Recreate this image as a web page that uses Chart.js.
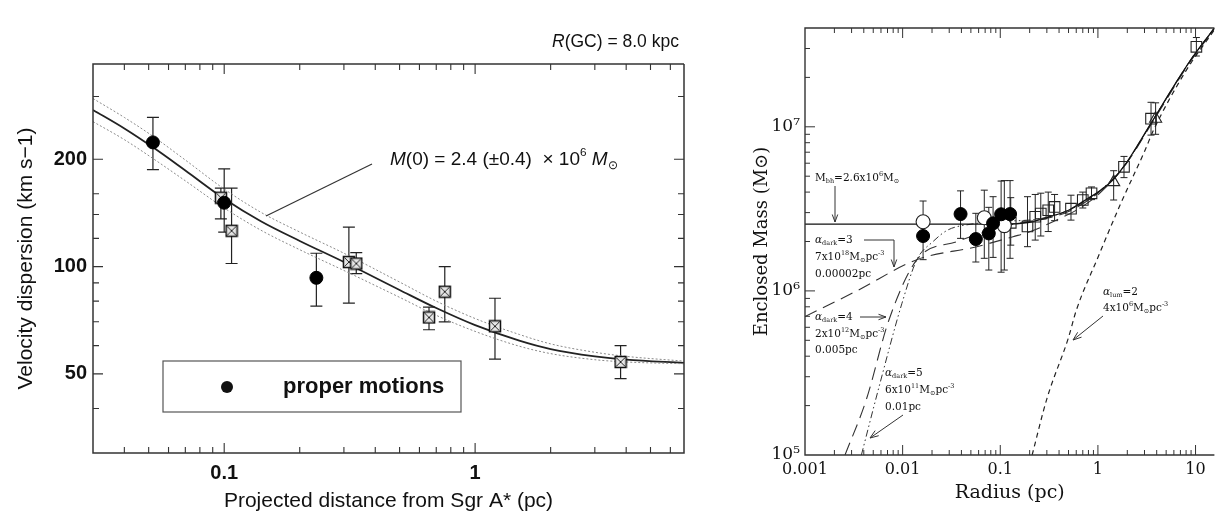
<!DOCTYPE html>
<html>
<head>
<meta charset="utf-8">
<script src="https://cdn.jsdelivr.net/npm/chart.js@4.4.1/dist/chart.umd.min.js"></script>
<style>
  html, body { margin: 0; padding: 0; background: #fff; width: 1223px; height: 518px; overflow: hidden; }
  #left { position: absolute; left: 0; top: 0; width: 700px; height: 518px; }
  #right { position: absolute; left: 740px; top: 0; width: 483px; height: 518px; }
</style>
</head>
<body>
<div id="left"><canvas id="velChart" width="700" height="518"></canvas></div>
<div id="right"><canvas id="massChart" width="483" height="518"></canvas></div>
<script>
// ---- left panel: velocity dispersion vs projected distance ----
const pmR = [0.052, 0.1, 0.233];
const pmV = [223, 151, 93];
const pmLo = [187, 125, 77.5];
const pmHi = [262, 188, 109];

const rvR = [0.097, 0.107, 0.314, 0.336, 0.655, 0.757, 1.2, 3.8];
const rvV = [156, 126, 103, 102, 72, 85, 68, 54];
const rvLo = [136, 102, 79, 95.5, 66.5, 70, 55, 48.5];
const rvHi = [166, 166, 129, 109.5, 77, 100, 81.5, 60];

const fitR = [0.03, 0.04, 0.052, 0.07, 0.1, 0.14, 0.2, 0.3, 0.5, 0.7, 1, 1.5, 2, 3, 4, 6.8];
const fitV = [275, 244, 216, 186, 155, 134, 118, 103, 86, 76.5, 68.5, 62, 58.7, 56, 54.8, 53.7];
const fitHiV = [296, 262, 232, 199, 165, 142, 125, 109, 90.5, 80, 71.5, 64.5, 60.7, 57.5, 56, 54.3];
const fitLoV = [255, 227, 201, 174, 146, 126.5, 111.5, 97.5, 82, 73, 65.8, 59.8, 57, 54.8, 54, 53.4];

const velTicksX = [0.04, 0.05, 0.06, 0.07, 0.08, 0.09, 0.1, 0.2, 0.3, 0.4, 0.5, 0.6, 0.7, 0.8, 0.9, 1, 2, 3, 4, 5, 6];
const velLabelsX = [0.1, 1];
const velTicksY = [40, 50, 60, 70, 80, 90, 100, 120, 140, 160, 200, 300];
const velLabelsY = [50, 100, 200];

// ---- right panel: enclosed mass vs radius ----
const fcR = [0.0162, 0.0392, 0.0562, 0.0763, 0.0844, 0.102, 0.126];
const fcM = [2.16e6, 2.94e6, 2.07e6, 2.24e6, 2.58e6, 2.93e6, 2.94e6];
const fcLo = [1.55e6, 2.09e6, 1.5e6, 1.34e6, 1.6e6, 1.3e6, 1.58e6];
const fcHi = [2.6e6, 4.07e6, 2.97e6, 3.23e6, 3.75e6, 4.67e6, 4.7e6];

const ocR = [0.0162, 0.0686, 0.11];
const ocM = [2.64e6, 2.79e6, 2.5e6];
const ocLo = [2.2e6, 1.58e6, 1.34e6];
const ocHi = [3.53e6, 4.11e6, 4.7e6];

const sqR = [0.128, 0.19, 0.228, 0.26, 0.31, 0.36, 0.53, 0.7, 0.86, 1.85, 3.5, 10.2];
const sqM = [2.6e6, 2.47e6, 2.83e6, 2.96e6, 3.1e6, 3.25e6, 3.17e6, 3.58e6, 3.93e6, 5.7e6, 1.12e7, 3.07e7];
const sqLo = [1.9e6, 1.86e6, 2.04e6, 2.16e6, 2.3e6, 2.68e6, 2.7e6, 3.2e6, 3.6e6, 4.9e6, 8.9e6, 2.7e7];
const sqHi = [3.7e6, 3.75e6, 3.87e6, 3.94e6, 4.0e6, 3.87e6, 3.83e6, 4.0e6, 4.3e6, 6.6e6, 1.41e7, 3.5e7];

const trR = [1.45, 3.9];
const trM = [4.6e6, 1.12e7];
const trLo = [3.58e6, 9e6];
const trHi = [5.4e6, 1.4e7];

const bhR = [0.001, 0.1, 0.2, 0.3, 0.5, 0.7, 1, 1.36, 1.85, 2.75, 3.74, 5.93, 8.7, 15.6];
const bhM = [2.55e6, 2.55e6, 2.62e6, 2.8e6, 3.1e6, 3.5e6, 4.0e6, 4.62e6, 5.75e6, 8.3e6, 1.12e7, 1.75e7, 2.5e7, 4.0e7];

const d3R = [0.001, 0.0035, 0.014, 0.0575, 0.135, 0.203, 0.4, 0.6, 1, 1.85, 3.74, 8.7, 15.6];
const d3M = [6.97e5, 1.01e6, 1.55e6, 1.86e6, 2.14e6, 2.3e6, 2.75e6, 3.1e6, 3.85e6, 5.7e6, 1.1e7, 2.46e7, 3.95e7];

const d4R = [0.00257, 0.00424, 0.00724, 0.014, 0.0363, 0.072, 0.135, 0.25, 0.5, 1, 1.85, 3.74, 8.7, 15.6];
const d4M = [1e5, 2.17e5, 6.65e5, 1.55e6, 2.0e6, 2.3e6, 2.55e6, 2.7e6, 3.05e6, 3.95e6, 5.75e6, 1.12e7, 2.5e7, 4.0e7];

const d5R = [0.00378, 0.00575, 0.00984, 0.014, 0.0205, 0.029, 0.05, 0.1, 0.25, 0.5, 1, 1.85, 3.74, 8.7, 15.6];
const d5M = [1e5, 2.62e5, 8.4e5, 1.55e6, 2.0e6, 2.35e6, 2.55e6, 2.65e6, 2.75e6, 3.1e6, 4.0e6, 5.75e6, 1.12e7, 2.5e7, 4.0e7];

const lumR = [0.212, 0.3, 0.5, 0.6, 1, 1.71, 3.04, 3.7, 8, 15.6];
const lumM = [1e5, 2.2e5, 5.2e5, 7.6e5, 1.6e6, 3.4e6, 7.2e6, 9.5e6, 2.2e7, 3.9e7];

const massTicksX = [0.002, 0.003, 0.004, 0.005, 0.006, 0.007, 0.008, 0.009, 0.01,
  0.02, 0.03, 0.04, 0.05, 0.06, 0.07, 0.08, 0.09, 0.1,
  0.2, 0.3, 0.4, 0.5, 0.6, 0.7, 0.8, 0.9, 1,
  2, 3, 4, 5, 6, 7, 8, 9, 10];
const massLabelsX = [0.001, 0.01, 0.1, 1, 10];
const massTicksY = [2e5, 3e5, 4e5, 5e5, 6e5, 7e5, 8e5, 9e5, 1e6,
  2e6, 3e6, 4e6, 5e6, 6e6, 7e6, 8e6, 9e6, 1e7, 2e7, 3e7];
const massLabelsY = [1e5, 1e6, 1e7];

const SANS = '"Liberation Sans", Arial, sans-serif';
const SERIF = '"DejaVu Serif", serif';

const pts = (xs, ys) => xs.map((x, i) => ({ x, y: ys[i] }));

function boxCross() {
  const s = 14;
  const c = document.createElement('canvas');
  c.width = c.height = s;
  const g = c.getContext('2d');
  g.fillStyle = '#e6e6e6';
  g.fillRect(1, 1, s - 2, s - 2);
  g.strokeStyle = '#111';
  g.lineWidth = 1.5;
  g.strokeRect(1.5, 1.5, s - 3, s - 3);
  g.lineWidth = 0.9;
  g.beginPath();
  g.moveTo(2.5, 2.5); g.lineTo(s - 2.5, s - 2.5);
  g.moveTo(s - 2.5, 2.5); g.lineTo(2.5, s - 2.5);
  g.stroke();
  return c;
}

// vertical error bars with caps, taken from dataset.errLo / errHi
const errorBars = {
  id: 'errorBars',
  beforeDatasetsDraw(chart) {
    const { ctx, scales: { x, y } } = chart;
    chart.data.datasets.forEach(ds => {
      if (!ds.errLo) return;
      ctx.save();
      ctx.strokeStyle = '#222';
      ctx.lineWidth = ds.errWidth;
      ctx.beginPath();
      ds.data.forEach((p, i) => {
        const px = x.getPixelForValue(p.x);
        const y1 = y.getPixelForValue(ds.errLo[i]);
        const y2 = y.getPixelForValue(ds.errHi[i]);
        ctx.moveTo(px, y1); ctx.lineTo(px, y2);
        ctx.moveTo(px - ds.capW, y1); ctx.lineTo(px + ds.capW, y1);
        ctx.moveTo(px - ds.capW, y2); ctx.lineTo(px + ds.capW, y2);
      });
      ctx.stroke();
      ctx.restore();
    });
  }
};

// box around the plot with inward tick marks
const frame = {
  id: 'frame',
  afterDraw(chart, args, o) {
    const { ctx, chartArea: a, scales: { x, y } } = chart;
    ctx.save();
    ctx.strokeStyle = o.color;
    ctx.lineWidth = o.width;
    ctx.beginPath();
    ctx.moveTo(a.right, a.top); ctx.lineTo(a.left, a.top);
    ctx.lineTo(a.left, a.bottom); ctx.lineTo(a.right, a.bottom);
    if (o.right) ctx.lineTo(a.right, a.top);
    ctx.stroke();
    ctx.lineWidth = o.tickWidth;
    ctx.beginPath();
    o.ticksX.forEach(v => {
      const px = x.getPixelForValue(v);
      const len = o.majorX.includes(v) ? o.major : o.minor;
      ctx.moveTo(px, a.bottom); ctx.lineTo(px, a.bottom - len);
      ctx.moveTo(px, a.top); ctx.lineTo(px, a.top + len);
    });
    o.ticksY.forEach(v => {
      const py = y.getPixelForValue(v);
      const len = o.majorY.includes(v) ? o.major : o.minor;
      ctx.moveTo(a.left, py); ctx.lineTo(a.left + len, py);
      if (o.right) { ctx.moveTo(a.right, py); ctx.lineTo(a.right - len, py); }
    });
    ctx.stroke();
    ctx.restore();
  }
};

// text with italic / superscript / subscript pieces
function rich(ctx, x, y, parts, size, family, weight) {
  let cx = x;
  parts.forEach(([t, k]) => {
    const small = k === 'sup' || k === 'sub';
    const s = small ? size * 0.62 : size;
    const dy = k === 'sup' ? -size * 0.38 : k === 'sub' ? size * 0.28 : 0;
    ctx.font = `${k === 'i' ? 'italic ' : ''}${weight || ''} ${s}px ${family}`;
    ctx.fillText(t, cx, y + dy);
    cx += ctx.measureText(t).width;
  });
}

function arrow(ctx, pts, head) {
  ctx.beginPath();
  ctx.moveTo(pts[0][0], pts[0][1]);
  for (let i = 1; i < pts.length; i++) ctx.lineTo(pts[i][0], pts[i][1]);
  const [x1, y1] = pts[pts.length - 2];
  const [x2, y2] = pts[pts.length - 1];
  const ang = Math.atan2(y2 - y1, x2 - x1);
  ctx.moveTo(x2 - head * Math.cos(ang - 0.35), y2 - head * Math.sin(ang - 0.35));
  ctx.lineTo(x2, y2);
  ctx.lineTo(x2 - head * Math.cos(ang + 0.35), y2 - head * Math.sin(ang + 0.35));
  ctx.stroke();
}

const velNotes = {
  id: 'velNotes',
  afterDraw(chart) {
    const ctx = chart.ctx;
    ctx.save();
    ctx.fillStyle = '#111';
    ctx.strokeStyle = '#333';
    ctx.textBaseline = 'middle';
    rich(ctx, 552, 42, [['R', 'i'], ['(GC) = 8.0 kpc', '']], 17.5, SANS);
    rich(ctx, 390, 160, [['M', 'i'], ['(0) = 2.4 (\u00b10.4)  \u00d7 10', ''], ['6', 'sup'], [' ', ''], ['M', 'i'], ['\u2299', 'sub']], 19, SANS);
    ctx.lineWidth = 1.2;
    ctx.beginPath();
    ctx.moveTo(372, 164); ctx.lineTo(266, 216);
    ctx.stroke();
    // legend box
    ctx.strokeStyle = '#555';
    ctx.lineWidth = 1.2;
    ctx.strokeRect(163, 361, 298, 51);
    ctx.beginPath();
    ctx.arc(227, 387, 6, 0, Math.PI * 2);
    ctx.fill();
    ctx.font = `bold 22px ${SANS}`;
    ctx.fillText('proper motions', 283, 387);
    ctx.restore();
  }
};

const massNotes = {
  id: 'massNotes',
  afterDraw(chart) {
    const ctx = chart.ctx;
    const f = 10.5;
    ctx.save();
    ctx.fillStyle = '#111';
    ctx.strokeStyle = '#333';
    ctx.lineWidth = 1;
    ctx.textBaseline = 'middle';
    rich(ctx, 75, 178, [['M', ''], ['bh', 'sub'], ['=2.6x10', ''], ['6', 'sup'], ['M', ''], ['\u2299', 'sub']], f, SERIF);
    arrow(ctx, [[95, 186], [95, 222]], 8);

    rich(ctx, 75, 240, [['\u03b1', 'i'], ['dark', 'sub'], ['=3', '']], f, SERIF);
    rich(ctx, 75, 257, [['7x10', ''], ['18', 'sup'], ['M', ''], ['\u2299', 'sub'], ['pc', ''], ['-3', 'sup']], f, SERIF);
    rich(ctx, 75, 274, [['0.00002pc', '']], f, SERIF);
    arrow(ctx, [[124, 240], [154, 240], [154, 267]], 8);

    rich(ctx, 75, 317, [['\u03b1', 'i'], ['dark', 'sub'], ['=4', '']], f, SERIF);
    rich(ctx, 75, 334, [['2x10', ''], ['12', 'sup'], ['M', ''], ['\u2299', 'sub'], ['pc', ''], ['-3', 'sup']], f, SERIF);
    rich(ctx, 75, 350, [['0.005pc', '']], f, SERIF);
    arrow(ctx, [[120, 317], [146, 317]], 8);

    rich(ctx, 145, 373, [['\u03b1', 'i'], ['dark', 'sub'], ['=5', '']], f, SERIF);
    rich(ctx, 145, 390, [['6x10', ''], ['11', 'sup'], ['M', ''], ['\u2299', 'sub'], ['pc', ''], ['-3', 'sup']], f, SERIF);
    rich(ctx, 145, 407, [['0.01pc', '']], f, SERIF);
    arrow(ctx, [[163, 415], [130, 438]], 9);

    rich(ctx, 363, 292, [['\u03b1', 'i'], ['lum', 'sub'], ['=2', '']], f, SERIF);
    rich(ctx, 363, 308, [['4x10', ''], ['6', 'sup'], ['M', ''], ['\u2299', 'sub'], ['pc', ''], ['-3', 'sup']], f, SERIF);
    arrow(ctx, [[363, 316], [333, 340]], 9);
    ctx.restore();
  }
};

const curve = (xs, ys, color, width, dash) => ({
  data: pts(xs, ys), showLine: true, borderColor: color, borderWidth: width,
  borderDash: dash, pointRadius: 0, cubicInterpolationMode: 'monotone', order: 5
});

new Chart(document.getElementById('velChart'), {
  type: 'scatter',
  data: {
    datasets: [
      curve(fitR, fitHiV, '#8a8a8a', 1, [2, 2]),
      curve(fitR, fitLoV, '#8a8a8a', 1, [2, 2]),
      curve(fitR, fitV, '#222', 1.8, []),
      {
        data: pts(rvR, rvV), pointStyle: boxCross(), pointRadius: 7,
        errLo: rvLo, errHi: rvHi, capW: 6, errWidth: 1.2, order: 2
      },
      {
        data: pts(pmR, pmV), pointStyle: 'circle', pointRadius: 6.5,
        backgroundColor: '#000', borderColor: '#000',
        errLo: pmLo, errHi: pmHi, capW: 6, errWidth: 1.2, order: 1
      }
    ]
  },
  options: {
    responsive: false,
    animation: false,
    devicePixelRatio: 1,
    events: [],
    layout: { padding: { top: 64, right: 16, left: 0, bottom: 0 } },
    plugins: {
      legend: { display: false },
      tooltip: { enabled: false },
      frame: {
        color: '#333', width: 1.5, tickWidth: 1.1, minor: 6, major: 10, right: true,
        ticksX: velTicksX, majorX: velLabelsX, ticksY: velTicksY, majorY: velLabelsY
      }
    },
    scales: {
      x: {
        type: 'logarithmic', min: 0.03, max: 6.8,
        grid: { display: false, drawTicks: false }, border: { display: false },
        afterBuildTicks: s => { s.ticks = velTicksX.map(v => ({ value: v })); },
        afterFit: s => { s.height = 65; },
        ticks: {
          autoSkip: false, maxRotation: 0, padding: 8, color: '#111',
          font: { family: SANS, size: 20, weight: 'bold' },
          callback: v => velLabelsX.includes(v) ? String(v) : ''
        },
        title: {
          display: true, text: 'Projected distance from Sgr A* (pc)', color: '#111',
          font: { family: SANS, size: 21, lineHeight: 1 }, padding: { top: 0, bottom: 6 }
        }
      },
      y: {
        type: 'logarithmic', min: 30, max: 370,
        grid: { display: false, drawTicks: false }, border: { display: false },
        afterBuildTicks: s => { s.ticks = velTicksY.map(v => ({ value: v })); },
        afterFit: s => { s.width = 93; },
        ticks: {
          autoSkip: false, padding: 6, color: '#111',
          font: { family: SANS, size: 20, weight: 'bold' },
          callback: v => velLabelsY.includes(v) ? String(v) : ''
        },
        title: {
          display: true, text: 'Velocity dispersion (km s\u22121)', color: '#111',
          font: { family: SANS, size: 21, lineHeight: 1.2 }, padding: { top: 14, bottom: 0 }
        }
      }
    }
  },
  plugins: [errorBars, frame, velNotes]
});

new Chart(document.getElementById('massChart'), {
  type: 'scatter',
  data: {
    datasets: [
      curve(bhR, bhM, '#111', 1.3, []),
      curve(d3R, d3M, '#333', 1.1, [13, 7]),
      curve(d4R, d4M, '#333', 1.1, [13, 7]),
      curve(d5R, d5M, '#333', 1.0, [7, 3, 1.5, 3, 1.5, 3]),
      curve(lumR, lumM, '#222', 1.2, [5, 4]),
      {
        data: pts(sqR, sqM), pointStyle: 'rect', pointRadius: 7.5, borderWidth: 1.1,
        backgroundColor: 'rgba(255,255,255,0)', borderColor: '#222',
        errLo: sqLo, errHi: sqHi, capW: 3.5, errWidth: 1, order: 3
      },
      {
        data: pts(trR, trM), pointStyle: 'triangle', pointRadius: 7, borderWidth: 1.1,
        backgroundColor: 'rgba(255,255,255,0)', borderColor: '#222',
        errLo: trLo, errHi: trHi, capW: 3.5, errWidth: 1, order: 3
      },
      {
        data: pts(ocR, ocM), pointStyle: 'circle', pointRadius: 7, borderWidth: 1.1,
        backgroundColor: '#fff', borderColor: '#222',
        errLo: ocLo, errHi: ocHi, capW: 3.5, errWidth: 1, order: 2
      },
      {
        data: pts(fcR, fcM), pointStyle: 'circle', pointRadius: 6.5, borderWidth: 1,
        backgroundColor: '#000', borderColor: '#000',
        errLo: fcLo, errHi: fcHi, capW: 3.5, errWidth: 1, order: 1
      }
    ]
  },
  options: {
    responsive: false,
    animation: false,
    devicePixelRatio: 1,
    events: [],
    layout: { padding: { top: 28, right: 0, left: 0, bottom: 0 } },
    plugins: {
      legend: { display: false },
      tooltip: { enabled: false },
      frame: {
        color: '#333', width: 1.4, tickWidth: 1, minor: 5, major: 10, right: false,
        ticksX: massTicksX, majorX: massLabelsX, ticksY: massTicksY, majorY: massLabelsY
      }
    },
    scales: {
      x: {
        type: 'logarithmic', min: 0.001, max: 15.6,
        grid: { display: false, drawTicks: false }, border: { display: false },
        afterBuildTicks: s => { s.ticks = [0.001].concat(massTicksX).map(v => ({ value: v })); },
        afterFit: s => { s.height = 63; },
        ticks: {
          autoSkip: false, maxRotation: 0, padding: 5, color: '#111',
          font: { family: SERIF, size: 16 },
          callback: v => massLabelsX.includes(v) ? String(v) : ''
        },
        title: {
          display: true, text: 'Radius (pc)', color: '#111',
          font: { family: SERIF, size: 19, lineHeight: 1.2 }, padding: { top: 0, bottom: 14 }
        }
      },
      y: {
        type: 'logarithmic', min: 1e5, max: 4e7,
        grid: { display: false, drawTicks: false }, border: { display: false },
        afterBuildTicks: s => { s.ticks = [1e5].concat(massTicksY).map(v => ({ value: v })); },
        afterFit: s => { s.width = 65; },
        ticks: {
          autoSkip: false, padding: 5, color: '#111',
          font: { family: SERIF, size: 17 },
          callback: v => v === 1e5 ? '10\u2075' : v === 1e6 ? '10\u2076' : v === 1e7 ? '10\u2077' : ''
        },
        title: {
          display: true, text: 'Enclosed Mass (M\u2299)', color: '#111',
          font: { family: SERIF, size: 18, lineHeight: 1.2 }, padding: { top: 12, bottom: 0 }
        }
      }
    }
  },
  plugins: [errorBars, frame, massNotes]
});
</script>
</body>
</html>
